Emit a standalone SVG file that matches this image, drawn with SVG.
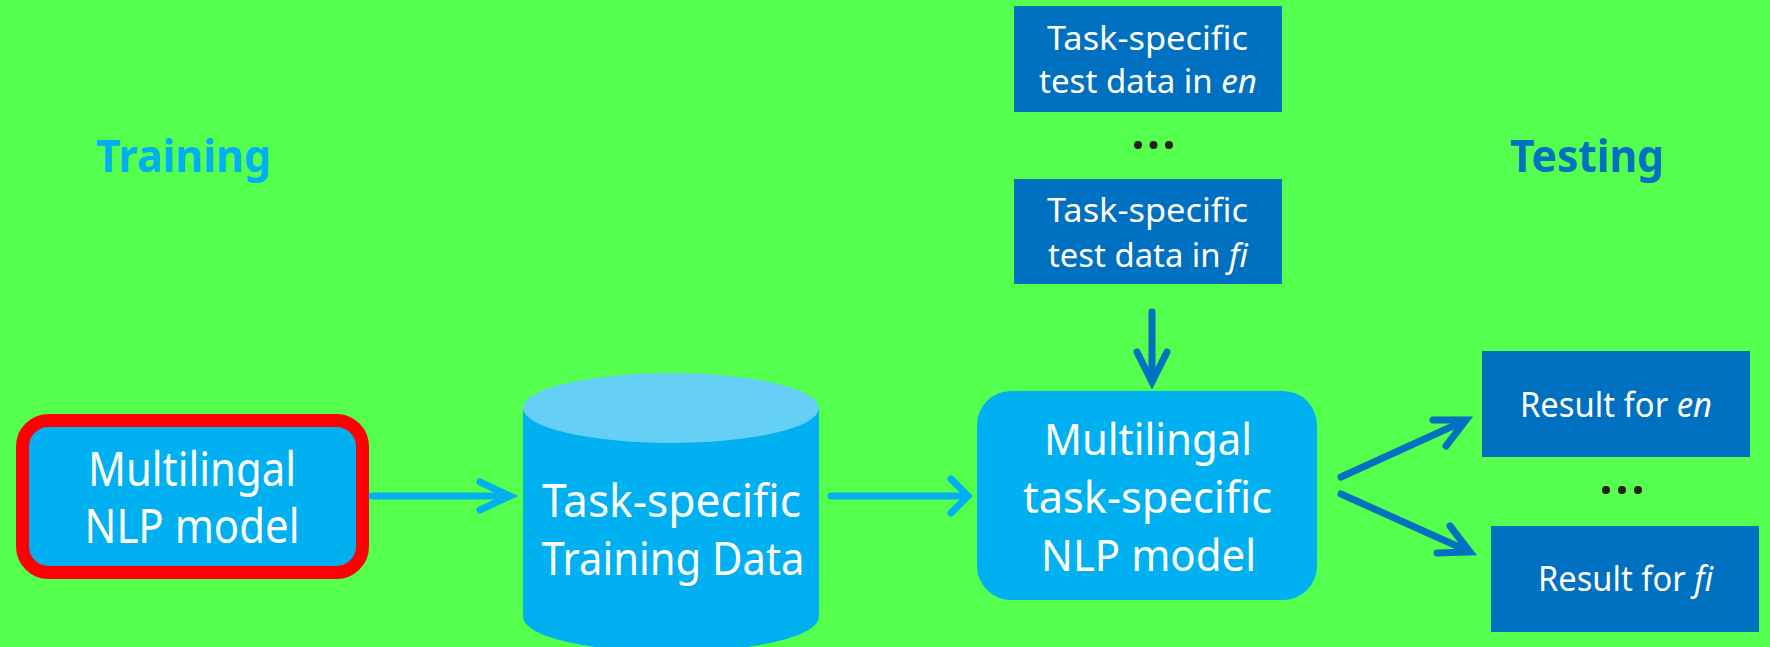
<svg xmlns="http://www.w3.org/2000/svg" width="1770" height="647" viewBox="0 0 1770 647">
  <style>
    .t { font-family: "Noto Sans", "Liberation Sans", sans-serif; fill: #ffffff; text-anchor: middle; }
    .h { font-family: "Noto Sans", "Liberation Sans", sans-serif; font-weight: bold; text-anchor: middle; }
    .lt { fill: #00B0F0; }
    .dk { fill: #0070C0; }
    .cl { fill: none; stroke-width: 7; stroke-linecap: round; stroke-linejoin: miter; }
    .cl-lt { stroke: #00B0F0; }
    .cl-dk { stroke: #0070C0; }
    .dot { fill: #231F20; }
  </style>

  <rect x="0" y="0" width="1770" height="647" fill="#55FF4D"/>

  <!-- section headings -->
  <text class="h lt" x="183.5" y="172" font-size="45" textLength="175" lengthAdjust="spacingAndGlyphs">Training</text>
  <text class="h dk" x="1587" y="172" font-size="45" textLength="154" lengthAdjust="spacingAndGlyphs">Testing</text>

  <!-- base model -->
  <g id="base-model">
    <rect x="22.5" y="420.5" width="340" height="152" rx="26" ry="26" fill="#00B0F0" stroke="#FF0000" stroke-width="13"/>
    <text class="t" x="192" y="486" font-size="47" textLength="208" lengthAdjust="spacingAndGlyphs">Multilingal</text>
    <text class="t" x="192" y="543" font-size="47" textLength="215" lengthAdjust="spacingAndGlyphs">NLP model</text>
  </g>

  <!-- training data store -->
  <g id="training-data">
    <path d="M523,408 L523,617 A148,35 0 0 0 819,617 L819,408 Z" fill="#00B0F0"/>
    <ellipse cx="671" cy="408" rx="148" ry="35" fill="#66CFF5"/>
    <text class="t" x="671.5" y="517" font-size="46" textLength="259" lengthAdjust="spacingAndGlyphs">Task-specific</text>
    <text class="t" x="673" y="575" font-size="46" textLength="263" lengthAdjust="spacingAndGlyphs">Training Data</text>
  </g>

  <!-- fine-tuned model -->
  <g id="task-model">
    <rect x="977" y="391" width="340" height="209" rx="34" ry="34" fill="#00B0F0"/>
    <text class="t" x="1148" y="455" font-size="43" textLength="208" lengthAdjust="spacingAndGlyphs">Multilingal</text>
    <text class="t" x="1147.5" y="513" font-size="43" textLength="249" lengthAdjust="spacingAndGlyphs">task-specific</text>
    <text class="t" x="1148.5" y="571" font-size="43" textLength="215" lengthAdjust="spacingAndGlyphs">NLP model</text>
  </g>

  <!-- test sets -->
  <g id="test-en">
    <rect x="1014" y="6" width="268" height="106" fill="#0070C0"/>
    <text class="t" x="1147.5" y="50" font-size="32" textLength="201" lengthAdjust="spacingAndGlyphs">Task-specific</text>
    <text class="t" x="1148" y="93" font-size="32" textLength="218" lengthAdjust="spacingAndGlyphs">test data in <tspan font-style="italic">en</tspan></text>
  </g>
  <g id="test-dots">
    <circle class="dot" cx="1138" cy="145" r="4"/>
    <circle class="dot" cx="1153.5" cy="145" r="4"/>
    <circle class="dot" cx="1169" cy="145" r="4"/>
  </g>
  <g id="test-fi">
    <rect x="1014" y="179" width="268" height="105" fill="#0070C0"/>
    <text class="t" x="1147.5" y="222" font-size="32" textLength="201" lengthAdjust="spacingAndGlyphs">Task-specific</text>
    <text class="t" x="1148" y="267" font-size="32" textLength="200" lengthAdjust="spacingAndGlyphs">test data in <tspan font-style="italic">fi</tspan></text>
  </g>

  <!-- results -->
  <g id="result-en">
    <rect x="1482" y="351" width="268" height="106" fill="#0070C0"/>
    <text class="t" x="1616" y="417" font-size="34" textLength="192" lengthAdjust="spacingAndGlyphs">Result for <tspan font-style="italic">en</tspan></text>
  </g>
  <g id="result-dots">
    <circle class="dot" cx="1606" cy="490" r="4"/>
    <circle class="dot" cx="1622" cy="490" r="4"/>
    <circle class="dot" cx="1638" cy="490" r="4"/>
  </g>
  <g id="result-fi">
    <rect x="1491" y="526" width="268" height="106" fill="#0070C0"/>
    <text class="t" x="1625.5" y="591" font-size="34" textLength="175" lengthAdjust="spacingAndGlyphs">Result for <tspan font-style="italic">fi</tspan></text>
  </g>

  <!-- connectors -->
  <g id="connectors">
    <line class="cl cl-lt" x1="372" y1="496" x2="508" y2="496" stroke-linecap="butt"/>
    <path class="cl cl-lt" d="M480,482 L510,496 L480,510"/>

    <line class="cl cl-lt" x1="831" y1="496" x2="966" y2="496" stroke-linecap="butt"/>
    <path class="cl cl-lt" d="M951,479 L968,496 L951,513"/>

    <line class="cl cl-dk" x1="1152" y1="312" x2="1152" y2="380" stroke-linecap="butt"/>
    <path class="cl cl-dk" d="M1137,352 L1152,382 L1167,352"/>

    <line class="cl cl-dk" x1="1341" y1="477" x2="1464" y2="421" stroke-linecap="butt"/>
    <path class="cl cl-dk" d="M1433,420 L1466,420 L1446,446"/>

    <line class="cl cl-dk" x1="1341" y1="494" x2="1468" y2="551" stroke-linecap="butt"/>
    <path class="cl cl-dk" d="M1437,553 L1470,552 L1450,526"/>
  </g>
</svg>
